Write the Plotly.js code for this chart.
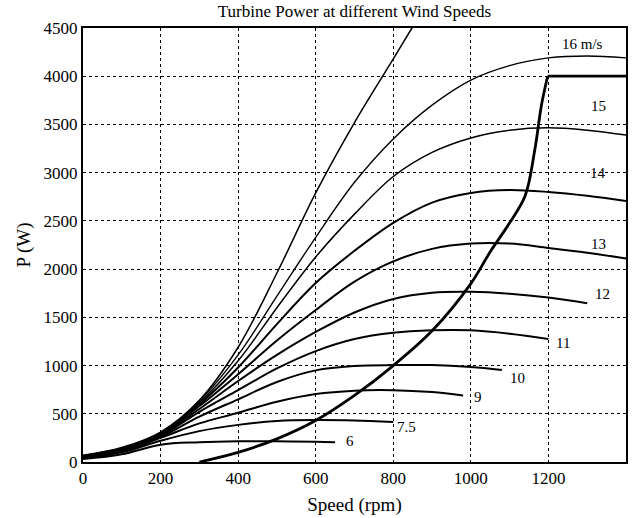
<!DOCTYPE html>
<html>
<head>
<meta charset="utf-8">
<script src="https://cdn.plot.ly/plotly-3.0.1.min.js"></script>
<style>html,body{margin:0;padding:0;background:#fff;}#chart{width:641px;height:518px;}</style>
</head>
<body>
<div id="chart"></div>
<script>
// Speed (rpm) sample points and turbine power (W) per wind speed
const rpmFull = [0, 100, 200, 300, 400, 500, 600, 700, 800, 900, 1000, 1100, 1200, 1300, 1400];

const rpmSteep = [0, 100, 200, 300, 400, 500, 600, 700, 800, 848, 860];
const pSteep   = [70, 150, 310, 640, 1190, 1960, 2790, 3520, 4180, 4500, 4580];

const p16 = [65, 145, 305, 630, 1110, 1720, 2330, 2900, 3350, 3700, 3960, 4110, 4190, 4210, 4190];
const p15 = [65, 140, 300, 615, 1050, 1600, 2126, 2570, 2960, 3210, 3360, 3440, 3465, 3440, 3390];
const p14 = [60, 135, 295, 600, 980, 1430, 1856, 2190, 2480, 2690, 2790, 2820, 2800, 2760, 2705];
const p13 = [60, 130, 290, 580, 910, 1260, 1576, 1870, 2080, 2210, 2265, 2265, 2220, 2170, 2110];

const rpm12 = [0, 100, 200, 300, 400, 500, 600, 700, 800, 900, 1000, 1100, 1200, 1300];
const p12   = [55, 125, 280, 550, 840, 1110, 1348, 1550, 1690, 1755, 1765, 1745, 1705, 1645];

const rpm11 = [0, 100, 200, 300, 400, 500, 600, 700, 800, 900, 1000, 1100, 1200];
const p11   = [55, 120, 270, 520, 745, 970, 1150, 1275, 1340, 1365, 1365, 1330, 1275];

const rpm10 = [0, 100, 200, 300, 400, 500, 600, 700, 800, 900, 1000, 1080];
const p10   = [50, 115, 260, 470, 650, 830, 950, 995, 1005, 1005, 985, 955];

const rpm9 = [0, 100, 200, 300, 400, 500, 600, 700, 800, 900, 980];
const p9   = [45, 110, 250, 400, 510, 625, 705, 740, 745, 725, 690];

const rpm75 = [0, 100, 200, 300, 400, 500, 600, 700, 800];
const p75   = [40, 100, 220, 320, 385, 425, 435, 430, 415];

const rpm6 = [0, 100, 200, 300, 400, 500, 600, 650];
const p6   = [30, 80, 180, 205, 215, 215, 210, 205];

// operating (control) curve: smooth rising part, then flat top at 4000 W
const rpmCtrlRise = [300, 400, 500, 600, 700, 800, 900, 1000, 1050, 1100, 1140, 1165, 1182, 1198];
const pCtrlRise   = [0, 100, 240, 430, 690, 1000, 1360, 1850, 2180, 2480, 2760, 3240, 3700, 4000];
const rpmCtrlFlat = [1198, 1400];
const pCtrlFlat   = [4000, 4000];

// curve labels
const labelText = ['16 m/s', '15', '14', '13', '12', '11', '10', '9', '7.5', '6'];
const labelX    = [1289, 1328, 1328, 1328, 1340, 1237, 1121, 1018, 835, 688];
const labelY    = [4335, 3692, 2997, 2260, 1742, 1234, 871, 674, 363, 218];

const xTicks = [0, 200, 400, 600, 800, 1000, 1200, 1400];
const yTicks = [0, 500, 1000, 1500, 2000, 2500, 3000, 3500, 4000, 4500];

const serif = 'Liberation Serif, Times New Roman, serif';

function curve(x, y, w, shape) {
  return {x: x, y: y, mode: 'lines', type: 'scatter', hoverinfo: 'skip',
          line: {color: '#000', width: w, shape: shape || 'spline', smoothing: 1}};
}

const traces = [
  curve(rpmSteep, pSteep, 1.5),
  curve(rpmFull, p16, 1.4),
  curve(rpmFull, p15, 1.5),
  curve(rpmFull, p14, 2),
  curve(rpmFull, p13, 2),
  curve(rpm12, p12, 2),
  curve(rpm11, p11, 2),
  curve(rpm10, p10, 2),
  curve(rpm9, p9, 2),
  curve(rpm75, p75, 2),
  curve(rpm6, p6, 2),
  curve(rpmCtrlRise, pCtrlRise, 2.8),
  curve(rpmCtrlFlat, pCtrlFlat, 2.8, 'linear')
];

const annotations = labelText.map((t, i) => ({
  x: labelX[i], y: labelY[i], xref: 'x', yref: 'y', text: t, showarrow: false,
  font: {family: serif, size: 15, color: '#000'}
}));

const layout = {
  width: 641, height: 518,
  margin: {l: 83, r: 15, t: 28, b: 56},
  paper_bgcolor: '#fff', plot_bgcolor: '#fff',
  showlegend: false,
  title: {text: 'Turbine Power at different Wind Speeds', x: 0.553, xanchor: 'center', y: 0.99, yanchor: 'top',
          font: {family: serif, size: 17, color: '#000'}},
  xaxis: {
    range: [0, 1400], tickvals: xTicks, ticktext: xTicks.map(String),
    showgrid: true, gridcolor: '#000', griddash: 'dot', gridwidth: 1,
    zeroline: false, showline: true, mirror: true, linecolor: '#000', linewidth: 2,
    ticks: '',
    tickfont: {family: serif, size: 17, color: '#000'},
    title: {text: 'Speed (rpm)', font: {family: serif, size: 19, color: '#000'}, standoff: 10}
  },
  yaxis: {
    range: [0, 4500], tickvals: yTicks, ticktext: yTicks.map(String),
    showgrid: true, gridcolor: '#000', griddash: 'dot', gridwidth: 1,
    zeroline: false, showline: true, mirror: true, linecolor: '#000', linewidth: 2,
    ticks: '',
    tickfont: {family: serif, size: 17, color: '#000'},
    title: {text: 'P (W)', font: {family: serif, size: 19, color: '#000'}, standoff: 8}
  },
  annotations: annotations
};

Plotly.newPlot('chart', traces, layout, {staticPlot: true, displayModeBar: false});
</script>
</body>
</html>
